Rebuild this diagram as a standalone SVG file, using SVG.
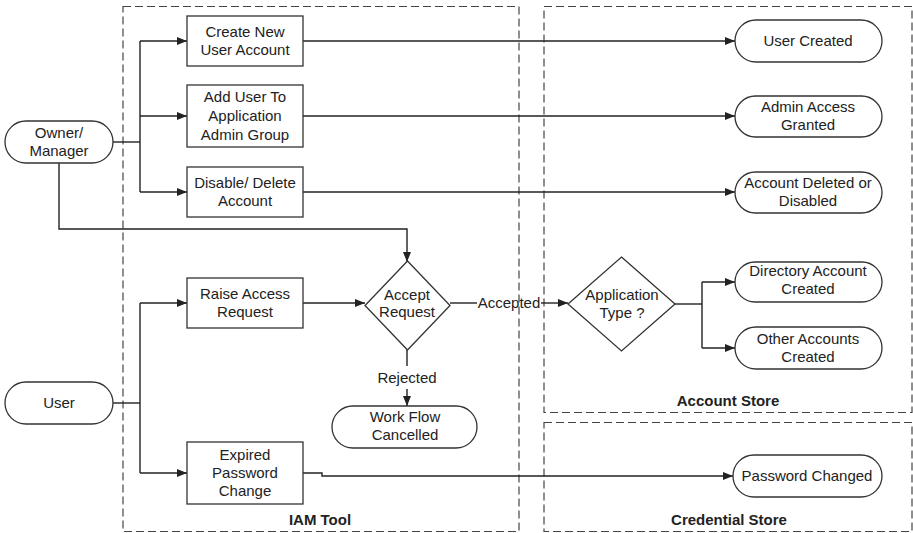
<svg xmlns="http://www.w3.org/2000/svg" width="913" height="533" viewBox="0 0 913 533">
<defs>
<style>
.bg{fill:#fff}
.lane{fill:none;stroke:#444;stroke-width:1.2;stroke-dasharray:8 4}
.box{fill:#fff;stroke:#333;stroke-width:1.3}
.t{font-family:"Liberation Sans",Arial,sans-serif;font-size:15px;fill:#222;text-anchor:middle}
.b{font-weight:bold}
.c{fill:none;stroke:#222;stroke-width:1.4}
</style>
<marker id="ah" viewBox="0 0 10 10" refX="10" refY="5" markerWidth="10" markerHeight="10" markerUnits="userSpaceOnUse" orient="auto">
<path d="M0,1 L10,5 L0,9 Z" fill="#222"/>
</marker>
</defs>
<rect class="bg" x="0" y="0" width="913" height="533"/>
<g id="lanes">
<rect class="lane" x="123" y="6.5" width="396" height="525"/>
<rect class="lane" x="544" y="6.5" width="368" height="406"/>
<rect class="lane" x="544" y="422.5" width="368" height="109"/>
<text class="t b" x="320" y="525">IAM Tool</text>
<text class="t b" x="728" y="406">Account Store</text>
<text class="t b" x="729" y="525">Credential Store</text>
</g>
<g id="connectors">
<path class="c" d="M113,142 H140"/>
<path class="c" d="M140,41 V192"/>
<path class="c" d="M140,41 H187" marker-end="url(#ah)"/>
<path class="c" d="M140,116 H187" marker-end="url(#ah)"/>
<path class="c" d="M140,192 H187" marker-end="url(#ah)"/>
<path class="c" d="M59,163 V229 H407 V262" marker-end="url(#ah)"/>
<path class="c" d="M303,41 H735" marker-end="url(#ah)"/>
<path class="c" d="M303,116 H735" marker-end="url(#ah)"/>
<path class="c" d="M303,192 H735" marker-end="url(#ah)"/>
<path class="c" d="M113,403 H140"/>
<path class="c" d="M140,303 V473"/>
<path class="c" d="M140,303 H187" marker-end="url(#ah)"/>
<path class="c" d="M140,473 H187" marker-end="url(#ah)"/>
<path class="c" d="M303,303 H365" marker-end="url(#ah)"/>
<path class="c" d="M450,303 H477"/>
<path class="c" d="M541,303 H568" marker-end="url(#ah)"/>
<text class="t" x="509" y="308">Accepted</text>
<path class="c" d="M407,350 V366"/>
<text class="t" x="407" y="383">Rejected</text>
<path class="c" d="M407,389 V406" marker-end="url(#ah)"/>
<path class="c" d="M675,304 H702"/>
<path class="c" d="M702,282 V348"/>
<path class="c" d="M702,282 H735" marker-end="url(#ah)"/>
<path class="c" d="M702,348 H735" marker-end="url(#ah)"/>
<path class="c" d="M303,473 H322 V476 H733" marker-end="url(#ah)"/>
</g>
<g id="owner">
<rect class="box" x="5" y="121" width="108" height="42" rx="21"/>
<text class="t" x="59" y="138">Owner/</text>
<text class="t" x="59" y="156">Manager</text>
</g>
<g id="user">
<rect class="box" x="5" y="382" width="108" height="42" rx="21"/>
<text class="t" x="59" y="408">User</text>
</g>
<g id="create">
<rect class="box" x="187" y="16" width="116" height="50"/>
<text class="t" x="245" y="37">Create New</text>
<text class="t" x="245" y="55">User Account</text>
</g>
<g id="addadmin">
<rect class="box" x="187" y="85" width="116" height="62"/>
<text class="t" x="245" y="102">Add User To</text>
<text class="t" x="245" y="121">Application</text>
<text class="t" x="245" y="140">Admin Group</text>
</g>
<g id="disable">
<rect class="box" x="187" y="167" width="116" height="50"/>
<text class="t" x="245" y="188">Disable/ Delete</text>
<text class="t" x="245" y="206">Account</text>
</g>
<g id="raise">
<rect class="box" x="187" y="278" width="116" height="50"/>
<text class="t" x="245" y="299">Raise Access</text>
<text class="t" x="245" y="317">Request</text>
</g>
<g id="expired">
<rect class="box" x="187" y="442" width="116" height="62"/>
<text class="t" x="245" y="460">Expired</text>
<text class="t" x="245" y="478">Password</text>
<text class="t" x="245" y="496">Change</text>
</g>
<g id="accept">
<polygon class="box" points="407.5,261 450,305.5 407.5,350 365,305.5"/>
<text class="t" x="407" y="300">Accept</text>
<text class="t" x="407" y="317">Request</text>
</g>
<g id="cancelled">
<rect class="box" x="332" y="406" width="145" height="42" rx="21"/>
<text class="t" x="405" y="422">Work Flow</text>
<text class="t" x="405" y="440">Cancelled</text>
</g>
<g id="apptype">
<polygon class="box" points="621.5,257 675,304 621.5,351 568,304"/>
<text class="t" x="622" y="300">Application</text>
<text class="t" x="622" y="318">Type ?</text>
</g>
<g id="usercreated">
<rect class="box" x="735" y="20" width="147" height="42" rx="21"/>
<text class="t" x="808" y="46">User Created</text>
</g>
<g id="admingranted">
<rect class="box" x="735" y="96" width="147" height="41" rx="20.5"/>
<text class="t" x="808" y="112">Admin Access</text>
<text class="t" x="808" y="130">Granted</text>
</g>
<g id="deleted">
<rect class="box" x="735" y="172" width="147" height="41" rx="20.5"/>
<text class="t" x="808" y="188">Account Deleted or</text>
<text class="t" x="808" y="206">Disabled</text>
</g>
<g id="directory">
<rect class="box" x="735" y="262" width="147" height="40" rx="20"/>
<text class="t" x="808" y="276">Directory Account</text>
<text class="t" x="808" y="294">Created</text>
</g>
<g id="other">
<rect class="box" x="735" y="327" width="147" height="42" rx="21"/>
<text class="t" x="808" y="344">Other Accounts</text>
<text class="t" x="808" y="362">Created</text>
</g>
<g id="pwchanged">
<rect class="box" x="733" y="455" width="149" height="42" rx="21"/>
<text class="t" x="807" y="481">Password Changed</text>
</g>
</svg>
